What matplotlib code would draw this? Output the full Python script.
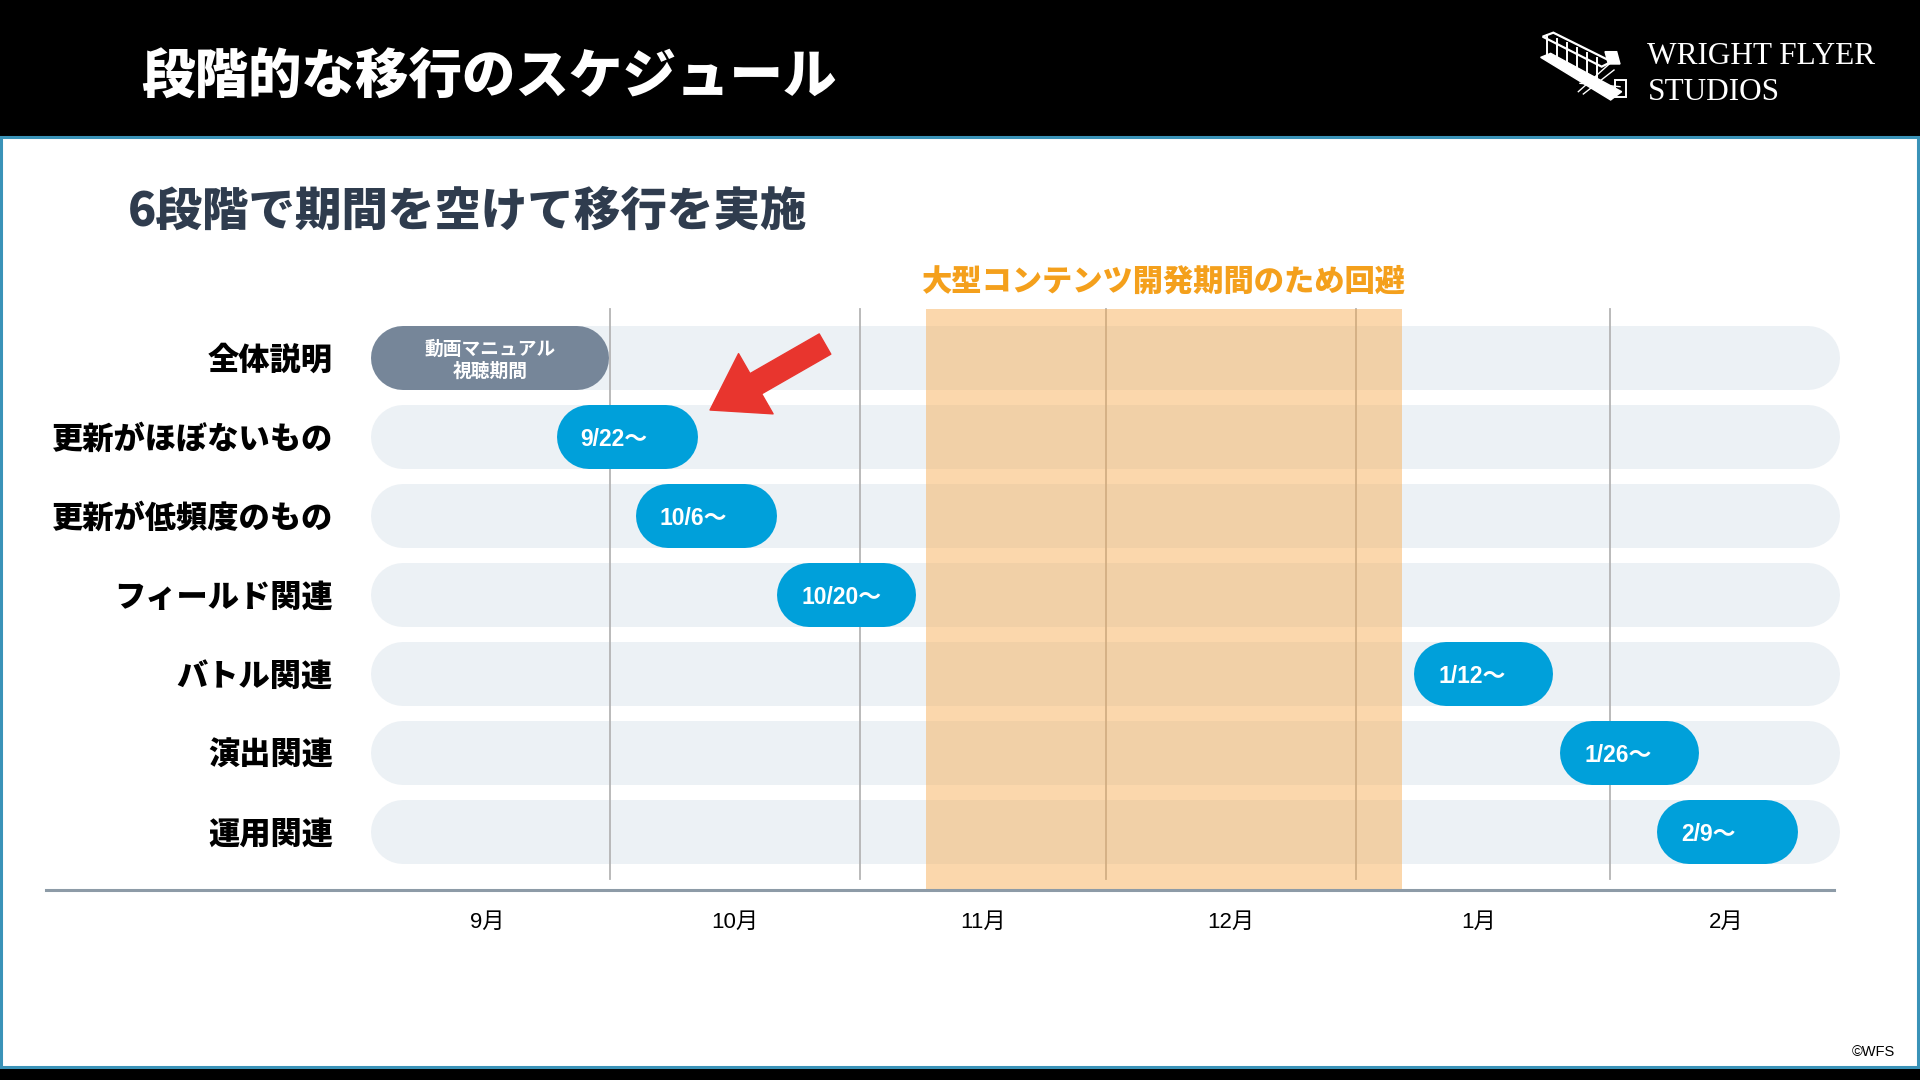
import matplotlib
matplotlib.use("Agg")
import matplotlib.pyplot as plt
from matplotlib.patches import Rectangle, Polygon

# ---------------- data ----------------
categories = ['全体説明', '更新がほぼないもの', '更新が低頻度のもの', 'フィールド関連',
              'バトル関連', '演出関連', '運用関連']
bar_labels = ['動画マニュアル\n視聴期間', '9/22～', '10/6～', '10/20～', '1/12～', '1/26～', '2/9～']
bar_start = [0.03, 0.78, 1.10, 1.67, 4.24, 4.83, 5.22]   # months since Sep 1
bar_end = [0.99, 1.35, 1.67, 2.23, 4.80, 5.39, 5.79]
months = ['9月', '10月', '11月', '12月', '1月', '2月']
month_bounds = [0.995, 2.005, 2.995, 4.005, 5.03]
avoid_start, avoid_end = 2.27, 4.19
avoid_label = '大型コンテンツ開発期間のため回避'
title = '段階的な移行のスケジュール'
subtitle = '6段階で期間を空けて移行を実施'

CJK = 'Noto Sans CJK JP'
LAT = ['Liberation Sans', 'Noto Sans CJK JP']
HEAVY = 'heavy'

W, H = 1920, 1080
DPI = 100
fig = plt.figure(figsize=(W / DPI, H / DPI), dpi=DPI)
fig.patch.set_facecolor('black')

# ---------- decoration axes in pixel coordinates ----------
pax = fig.add_axes([0, 0, 1, 1], zorder=0)
pax.set_xlim(0, W)
pax.set_ylim(H, 0)
pax.axis('off')
pax.add_patch(Rectangle((1, 137), W - 3, 930, facecolor='white',
                        edgecolor='#3a93b8', linewidth=2.2))
pax.text(141, 78, title, color='white', fontsize=38.5, fontweight=HEAVY,
         family=CJK, ha='left', va='center')
pax.text(128, 212, subtitle, color='#2f3c4e', fontsize=33.5, fontweight=HEAVY,
         family=CJK, ha='left', va='center')
pax.text(1647, 57, 'WRIGHT FLYER', color='white', fontsize=22.5,
         family='Liberation Serif', ha='left', va='center')
pax.text(1648, 93, 'STUDIOS', color='white', fontsize=22.5,
         family='Liberation Serif', ha='left', va='center')
pax.text(1895, 1052, '©WFS', color='black', fontsize=10.5,
         family='Liberation Sans', ha='right', va='center')

# logo icon (simplified biplane)
def z(pts):
    return [(1520 + x / 3.0, 20 + y / 3.0) for x, y in pts]

pax.add_patch(Polygon(z([(62, 112), (92, 100), (305, 215), (272, 240)]),
                      closed=True, facecolor='white', edgecolor='white', lw=1))
pax.add_patch(Polygon(z([(68, 50), (100, 38), (275, 125), (245, 140)]),
                      closed=True, facecolor='none', edgecolor='white', lw=1.6))
pax.add_patch(Polygon(z([(255, 95), (290, 95), (300, 132), (265, 132)]),
                      closed=True, facecolor='white', edgecolor='white', lw=1))
pax.add_patch(Polygon(z([(285, 180), (318, 180), (318, 232), (285, 232)]),
                      closed=True, facecolor='none', edgecolor='white', lw=1.4))
for sx, sy in [(80, 46), (110, 56), (140, 70), (170, 85), (200, 100), (230, 115)]:
    pax.plot(*zip(*z([(sx, sy), (sx, sy + 62)])), color='white', lw=1.4)
for a, b in [((175, 215), (270, 130)), ((190, 222), (282, 150)), ((180, 190), (300, 200))]:
    pax.plot(*zip(*z([a, b])), color='white', lw=1.0)

# ---------- chart axes ----------
ax = fig.add_axes([0, 0, 1, 1], zorder=1)
ax.patch.set_alpha(0)
x_lo, x_hi = -1.4665, 6.282
y_lo, y_hi = 9.144, -4.527
ax.set_xlim(x_lo, x_hi)
ax.set_ylim(y_lo, y_hi)
ax.axis('off')

x_ppu = W / (x_hi - x_lo)
y_ppu = H / (y_lo - y_hi)

band_h = 0.81                      # in row units
band_px = band_h * y_ppu
band_lw = band_px * 72.0 / DPI     # points
cap = band_px / 2.0 / x_ppu        # cap radius in x units
band_left, band_right = 0.03, 5.96
TXT_DY = 0.035


def pill(x0, x1, yc, color, z_):
    ax.plot([x0 + cap, x1 - cap], [yc, yc], color=color, lw=band_lw,
            solid_capstyle='round', zorder=z_)


rows = list(range(len(categories)))
for i, cat in zip(rows, categories):
    pill(band_left, band_right, i, '#ecf1f5', 1)
    ax.text(-0.123, i + TXT_DY, cat, ha='right', va='center', fontsize=22.5,
            fontweight=HEAVY, family=CJK, color='black')

# gridlines at month boundaries
for m in month_bounds:
    ax.plot([m, m], [-0.62, 6.6], color='#b4b4b4', lw=1.3, zorder=2)

# avoided period
ax.add_patch(Rectangle((avoid_start, -0.62), avoid_end - avoid_start, 6.74 + 0.62,
                       facecolor='#f8a848', alpha=0.45, edgecolor='none', zorder=3))
ax.text((avoid_start + avoid_end) / 2, -1.0 + TXT_DY, avoid_label, ha='center', va='center',
        fontsize=21.8, fontweight=HEAVY, family=CJK, color='#f4a01c', zorder=5)

# bars
for i, (s, e, lab) in enumerate(zip(bar_start, bar_end, bar_labels)):
    if i == 0:
        pill(s, e, i, '#768699', 4)
        ax.text((s + e) / 2, i + TXT_DY, lab, ha='center', va='center', fontsize=13.5,
                fontweight='bold', family=CJK, color='white', linespacing=1.25, zorder=5)
    else:
        pill(s, e, i, '#00a0da', 4)
        ax.text(s + 0.097, i + TXT_DY, lab, ha='left', va='center', fontsize=16.5,
                fontweight='bold', family=LAT, color='white', zorder=5)

# axis line and month labels
ax.plot([-1.279, 5.934], [6.741, 6.741], color='#8d9ba7', lw=2.2, zorder=6)
for k, mname in enumerate(months):
    ax.text(k + 0.5, 7.12 + TXT_DY, mname, ha='center', va='center', fontsize=16,
            family=LAT, color='black')

# red arrow pointing at the first migration step
ax.annotate('', xy=(1.399, 0.663), xytext=(1.863, -0.172),
            arrowprops=dict(arrowstyle='simple,head_length=0.95,head_width=1.25,tail_width=0.42',
                            mutation_scale=40, color='#e8352e', shrinkA=0, shrinkB=0),
            zorder=7)

fig.savefig('out.png', dpi=DPI, facecolor=fig.get_facecolor())
